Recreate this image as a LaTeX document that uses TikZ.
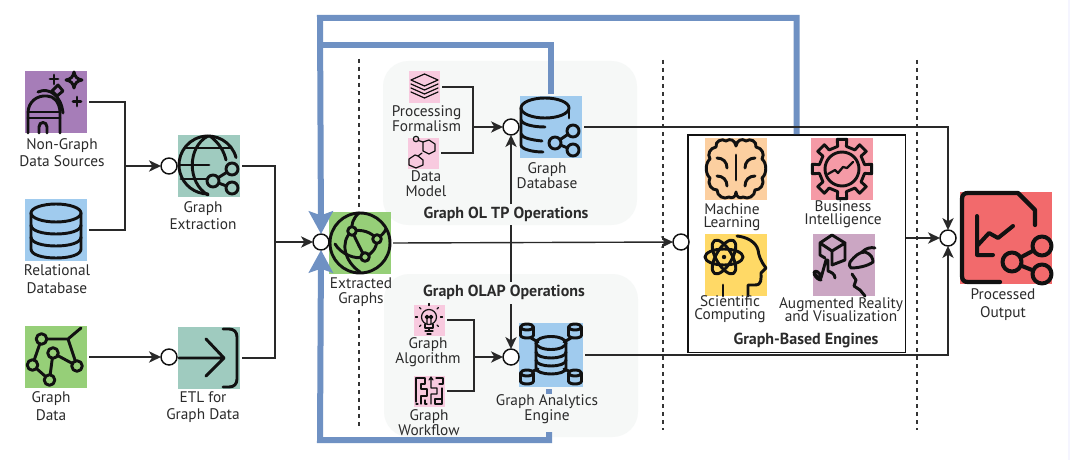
\documentclass[tikz,border=0pt]{standalone}
\usepackage{fontspec}
\setmainfont{PT Sans}
\usetikzlibrary{arrows.meta,calc}
\AtBeginDocument{\lineskiplimit=-5pt\relax}
\definecolor{purp}{HTML}{A67DB8}
\definecolor{lblue}{HTML}{A0CBEE}
\definecolor{lgreen}{HTML}{96CF78}
\definecolor{teal2}{HTML}{9FCBBF}
\definecolor{pink2}{HTML}{F8CADF}
\definecolor{peach}{HTML}{FCCFA0}
\definecolor{rose}{HTML}{F59AA6}
\definecolor{yel}{HTML}{FFD966}
\definecolor{mauve}{HTML}{CBA6C3}
\definecolor{redd}{HTML}{F26A6C}
\definecolor{panel}{HTML}{F6F8F7}
\definecolor{flow}{HTML}{6F91C3}
\definecolor{ink}{HTML}{111111}
\definecolor{txt}{HTML}{2B2B2B}
\tikzset{
  icon/.style 2 args={rectangle,fill=#2,draw=none,minimum size=#1*0.75pt,inner sep=0pt,outer sep=1.5pt},
  circ/.style={circle,draw=ink,fill=white,line width=1.1pt,minimum size=12pt,inner sep=0pt,outer sep=0pt},
  conn/.style={draw=ink!90,line width=1.05pt},
  ar/.style={-{Stealth[length=9pt,width=8.5pt,inset=2.5pt]}},
  flowline/.style={draw=flow,line width=4.5pt},
  flowar/.style={-{Stealth[length=17pt,width=18pt,inset=3pt]}},
  divider/.style={draw=ink!85,line width=1.1pt,dash pattern=on 3pt off 3pt},
  pan/.style={rounded corners=19pt,fill=panel,draw=none},
  lab/.style={text=txt,inner sep=0pt,align=center,font=\fontsize{11.5}{13.3}\selectfont},
  labt/.style={text=txt,inner sep=0pt,align=center,font=\fontsize{11.5}{11.4}\selectfont},
  labn/.style={text=txt,inner sep=0pt,align=center,font=\fontsize{11.5}{9.8}\selectfont},
  head/.style={text=txt,inner sep=0pt,font=\fontsize{12}{12}\selectfont\bfseries},
  gl/.style={draw=ink,line width=2.2pt,line cap=round,line join=round},
  glt/.style={draw=ink,line width=0.9pt,line cap=round,line join=round},
}
\begin{document}
\begin{tikzpicture}[x=0.75pt,y=-0.75pt]
\useasboundingbox (0,0) rectangle (1070,460);
\fill[white] (0,0) rectangle (1070,460);
\fill[blue!4] (1068,0) rectangle (1070,460);
% panels
\fill[pan] (383,61) rectangle (637,225);
\fill[pan] (384,274) rectangle (638,437);
% dividers
\coordinate (d1a) at (359,59);\coordinate (d1b) at (359,211);
\coordinate (d1c) at (359,310);\coordinate (d1d) at (359,429);
\coordinate (d2a) at (663,60);\coordinate (d2b) at (663,430);
\coordinate (d3a) at (917,60);\coordinate (d3b) at (917,430);
\draw[divider] (d1a)--(d1b) (d1c)--(d1d) (d2a)--(d2b) (d3a)--(d3b);
% icon tiles
\node[icon={62}{purp}] (ng) at (56,102) {};
\node[icon={62}{lblue}] (rd) at (56,230) {};
\node[icon={62}{lgreen}] (gd) at (56,357) {};
\node[icon={62}{teal2}] (ge) at (209,166) {};
\node[icon={62}{teal2}] (etl) at (209,358) {};
\node[icon={62}{lgreen}] (eg) at (360,243) {};
\node[icon={31}{pink2}] (pf) at (424.5,87) {};
\node[icon={31}{pink2}] (dm) at (423,153) {};
\node[icon={62}{lblue}] (gdb) at (551,127) {};
\node[icon={31}{pink2}] (alg) at (429.5,320) {};
\node[icon={31}{pink2}] (wf) at (429.5,391) {};
\node[icon={64}{lblue}] (ga) at (551,355) {};
\node[rectangle,draw=ink,line width=1pt,fill=white,minimum width=163pt,minimum height=163pt,inner sep=0pt] (box) at (796.5,243.5) {};
\node[icon={62}{peach}] (ml) at (736,169) {};
\node[icon={62}{rose}] (bi) at (841.5,169) {};
\node[icon={62}{yel}] (sc) at (736,265) {};
\node[icon={62}{mauve}] (ar) at (844,265) {};
\node[icon={92}{redd}] (po) at (1006,238) {};
% glyphs: Non-Graph
\begin{scope}[shift={(25,71)}]
\draw[gl] (3,62)--(3,42) .. controls (3,31) and (12,24) .. (22,25) .. controls (29,25) and (34,31) .. (35,40) --(35,62);
\draw[gl] (3,41)--(35,41) (3,47)--(35,47);
\draw[gl] (14,62)--(14,56) .. controls (14,50) and (22,50) .. (22,56)--(22,62);
\draw[gl] (13,21) .. controls (24,16) and (36,24) .. (38,42);
\draw[gl] (32,25)--(27,20)--(33,14)--(38,20)--cycle;
\draw[gl] (29,4)--(29,13) (25,8)--(33,8) (52,26)--(52,35) (48,30.5)--(56,30.5);
\draw[gl] (49,1) .. controls (50,6) and (52,8) .. (57,9) .. controls (52,10) and (50,12) .. (49,17) .. controls (48,12) and (46,10) .. (41,9) .. controls (46,8) and (48,6) .. (49,1)--cycle;
\end{scope}
% Relational DB
\begin{scope}[shift={(25,199)}]
\draw[gl] (31,14) ellipse (25 and 9);
\draw[gl] (6,14)--(6,50) .. controls (6,56) and (18,59) .. (31,59) .. controls (44,59) and (56,56) .. (56,50)--(56,14);
\draw[gl] (6,26) .. controls (6,32) and (18,35) .. (31,35) .. controls (44,35) and (56,32) .. (56,26);
\draw[gl] (6,38) .. controls (6,44) and (18,47) .. (31,47) .. controls (44,47) and (56,44) .. (56,38);
\end{scope}
% Graph data
\begin{scope}[shift={(25,326)}]
\draw[gl] (16.5,13)--(43,13)--(56,2) (43,13)--(52,40)--(28,27)--(24.5,54)--(7.5,39)--(16.5,13);
\foreach \p in {(16.5,13),(28,27),(7.5,39),(24.5,54),(52,40)} \draw[gl,fill=lgreen] \p circle (5.3);
\end{scope}
% Graph extraction
\begin{scope}[shift={(178,135)}]
\draw[gl] (30,30) ++(-15:29) arc[start angle=-15,end angle=-270,radius=29];
\draw[gl] (30,1) .. controls (9,12) and (9,48) .. (30,60);
\draw[gl] (32,1) .. controls (41,8) and (46,16) .. (48,25);
\draw[gl] (8,13)--(52,13) (1,30)--(31,30) (3,44)--(28,44);
\draw[gl] (54,34)--(35,46)--(54,53);
\foreach \p in {(54,34),(35,46),(54,53)} \draw[gl,fill=teal2] \p circle (6);
\end{scope}
% ETL
\begin{scope}[shift={(178,327)}]
\draw[gl] (1,31)--(46,31) (28,12)--(46,31)--(28,49);
\draw[gl] (45,2)--(51,2) .. controls (56,2) and (59,5) .. (59,10)--(59,52) .. controls (59,57) and (56,60) .. (51,60)--(45,60);
\end{scope}
% Extracted graphs
\begin{scope}[shift={(329,212)}]
\draw[gl] (31,31) circle (30);
\draw[gl] (23,19) .. controls (10,30) and (16,50) .. (31,60);
\draw[gl] (23,19) .. controls (33,17) and (42,20) .. (48,27);
\draw[gl] (48,27) .. controls (48,36) and (43,42) .. (36,45);
\draw[gl] (36,45) .. controls (26,48) and (12,42) .. (6,32);
\draw[gl] (23,19) .. controls (22,13) and (24,6) .. (30,1);
\draw[gl] (23,19) .. controls (28,30) and (32,38) .. (36,45);
\draw[gl] (48,27) .. controls (52,24) and (56,20) .. (57,17);
\foreach \p in {(23,19),(48,27),(36,45)} \draw[gl,fill=lgreen] \p circle (4.3);
\end{scope}
% Processing formalism icon
\begin{scope}[shift={(409,71)}]
\draw[glt] (15.5,3)--(29,9)--(15.5,15)--(2,9)--cycle;
\draw[glt] (2,13)--(15.5,19)--(29,13) (2,17)--(15.5,23)--(29,17) (2,21)--(15.5,27)--(29,21);
\end{scope}
% Data model icon
\begin{scope}[shift={(407,137)}]
\draw[glt] (9,2) circle (2.7);
\draw[glt] (11.5,3.5)--(16,5);
\draw[glt] (16,5)--(22,3)--(28,7)--(28,14)--(22,17)--(16,14)--cycle;
\draw[glt] (15,16)--(11,19);
\draw[glt] (11,19)--(16,23)--(16,28)--(9,31)--(2,28)--(2,22)--(8,18)--cycle;
\end{scope}
% Graph database
\begin{scope}[shift={(520,96)}]
\draw[gl] (25,12) ellipse (24 and 10);
\draw[gl] (49,12)--(49,22);
\draw[gl] (1,12)--(1,49) .. controls (1,53) and (12,56) .. (23,56);
\draw[gl] (1,24) .. controls (2,28) and (12,31) .. (25,31);
\draw[gl] (1,38) .. controls (2,42) and (12,44) .. (22,45);
\draw[gl] (53,35)--(35,47)--(53,54);
\foreach \p in {(53,35),(35,47),(53,54)} \draw[gl,fill=lblue] \p circle (6);
\end{scope}
% Graph algorithm
\begin{scope}[shift={(414,304)}]
\draw[glt] (15,13) circle (7.5);
\draw[glt] (11,20)--(11,24)--(19,24)--(19,20) (11,27)--(19,27) (13,30)--(17,30);
\draw[glt] (13,20)--(13,13) (17,20)--(17,13) (13,13) circle (1.8) (17,13) circle (1.8);
\foreach \a in {0,45,...,315} \draw[glt] (15,13) ++(\a:11.5) -- ++(\a:2);
\end{scope}
% Workflow
\begin{scope}[shift={(414,375)}]
\draw[glt] (2,27)--(2,3)--(11,3)--(11,9)--(7,9)--(7,14)--(13,14)--(13,21)--(7,21)--(7,29);
\draw[glt] (17,29)--(17,19)--(23,19)--(23,13)--(17,13)--(17,3)  (15,5)--(17,2)--(19,5);
\draw[glt] (22,3)--(29,3)--(29,9)--(25,9) (28,13)--(28,29)--(21,29)--(21,24)--(28,24);
\draw[glt] (2,29)--(4,29) (11,25)--(11,29)--(13,29);
\end{scope}
% Analytics engine
\begin{scope}[shift={(519,323)}]
\draw[gl] (32,20) ellipse (15 and 6.5);
\draw[gl] (17,20)--(17,45) .. controls (17,53) and (47,53) .. (47,45)--(47,20);
\draw[gl] (17,29) .. controls (17,37) and (47,37) .. (47,29);
\draw[gl] (17,37) .. controls (17,45) and (47,45) .. (47,37);
\draw[gl] (12,15)--(19,19) (52,15)--(45,19) (12,49)--(19,46) (52,49)--(45,46);
\foreach \px/\py in {8/4,56/4,8/50,56/50} {
 \begin{scope}[shift={(\px,\py)}]
 \draw[gl,fill=lblue] (0,0) ellipse (6.5 and 3);
 \draw[gl] (-6.5,0)--(-6.5,8) .. controls (-6.5,12) and (6.5,12) .. (6.5,8)--(6.5,0);
 \end{scope}}
\end{scope}
% ML brain
\begin{scope}[shift={(705,138)}]
\draw[gl] (31,8) .. controls (30,2) and (25,0) .. (21,3) .. controls (17,0) and (10,3) .. (11,9) .. controls (5,10) and (2,16) .. (5,21) .. controls (0,25) and (0,36) .. (5,40) .. controls (2,47) and (7,52) .. (12,52) .. controls (12,58) and (19,62) .. (24,59) .. controls (27,61) and (31,59) .. (31,54) .. controls (31,59) and (35,61) .. (38,59) .. controls (43,62) and (50,58) .. (50,52) .. controls (55,52) and (60,47) .. (57,40) .. controls (62,36) and (62,25) .. (57,21) .. controls (60,16) and (57,10) .. (51,9) .. controls (52,3) and (45,0) .. (41,3) .. controls (37,0) and (32,2) .. (31,8);
\draw[gl] (31,17)--(31,42);
\draw[gl] (12,20) .. controls (18,20) and (22,24) .. (22,30);
\draw[gl] (50,20) .. controls (44,20) and (40,24) .. (40,30);
\draw[gl] (12,38) .. controls (18,38) and (22,42) .. (22,48);
\draw[gl] (50,38) .. controls (44,38) and (40,42) .. (40,48);
\end{scope}
% BI gear
\begin{scope}[shift={(811,138)}]
\begin{scope}[shift={(31,31)}]
\draw[gl] (-11:23) \foreach \a in {0,45,...,315} { -- (\a-11:23) -- (\a-9:30) -- (\a+9:30) -- (\a+11:23)} -- cycle;
\draw[gl] (0,0) circle (17);
\end{scope}
\draw[gl,line width=1.7pt] (17,36)--(24,32)--(27,35)--(32,29)--(36,30)--(42,24);
\end{scope}
% Science head
\begin{scope}[shift={(705,234)}]
\begin{scope}[shift={(19,23)}]
\draw[gl] (0,0) ellipse (19 and 8);
\draw[gl,rotate=60] (0,0) ellipse (19 and 8);
\draw[gl,rotate=-60] (0,0) ellipse (19 and 8);
\fill[ink] (0,0) circle (2.2);
\end{scope}
\draw[gl] (32,2) .. controls (42,3) and (51,8) .. (53,16) .. controls (54,22) and (55,26) .. (61,34) -- (56,39) .. controls (56,45) and (57,51) .. (50,51)--(43,51)--(43,62);
\draw[gl] (18,51)--(18,62);
\end{scope}
% AR
\begin{scope}[shift={(813,234)}]
\draw[gl] (19,1)--(32,9)--(32,26)--(19,31) (19,31)--(19,17)--(7,9)--(19,1) (19,17)--(32,9) (7,9)--(7,21)--(12,24);
\draw[gl] (1,40) .. controls (3,44) and (6,46) .. (8,46) .. controls (4,42) and (1,40) .. (1,38)  (8,44)--(13,26)--(15,26)--(15,37) .. controls (18,38) and (22,40) .. (22,44) (1,38) .. controls (3,36) and (6,38) .. (8,42);
\draw[gl] (49,18) .. controls (53,14) and (58,13) .. (62,14);
\draw[gl] (37,28) .. controls (42,22) and (46,18) .. (52,18) .. controls (58,20) and (60,24) .. (60,28) .. controls (55,32) and (45,34) .. (38,34) .. controls (36,33) and (36,30) .. (37,28)--cycle;
\draw[gl] (39,40)--(43,46)--(41,52)--(47,56)--(52,62);
\end{scope}
% Processed output
\begin{scope}[shift={(960,192)}]
\draw[gl,line width=3.2pt] (75,33)--(75,18)--(58,1)--(8,1) .. controls (4,1) and (2,3) .. (2,7)--(2,84) .. controls (2,88) and (4,90) .. (8,90)--(40,90);
\draw[gl,line width=3pt] (17,24)--(17,63)--(33,63) (18,53)--(29,41)--(38,46)--(53,34);
\draw[gl,line width=3pt] (82,54)--(52,70)--(82,82);
\foreach \p in {(82,54),(52,70),(82,82)} \draw[gl,line width=3pt,fill=redd] \p circle (9.5);
\end{scope}
% junction circles
\node[circ] (c1) at (169,166) {};
\node[circ] (c2) at (169,357) {};
\node[circ] (c3) at (321,242) {};
\node[circ] (c4) at (511,127) {};
\node[circ] (c5) at (511,357) {};
\node[circ] (c6) at (681,242) {};
\node[circ] (c7) at (948,238) {};
% flow lines
\coordinate (fo) at (320,18);
\coordinate (fi) at (320,45);
\coordinate (fb) at (320,440);
\coordinate (gapa) at (549,394);
\coordinate (gapb) at (549,432);
\draw[flowline] (gdb.north) |- (fi);
\draw[flowline,flowar] (box.north) |- (fo) -- (c3.north);
\draw[flowline,flowar] (gapb) |- (fb) -- (c3.south);
\draw[flowline] (ga.south-|gapa) -- (gapa);
% connectors
\coordinate (j1) at (125,166);
\coordinate (j2) at (275,242);
\coordinate (j3) at (511,242);
\coordinate (j4) at (473,127);
\coordinate (j5) at (474,357);
\coordinate (ua) at (511,225);\coordinate (ub) at (511,204);
\coordinate (la) at (511,282);\coordinate (lb) at (511,304);
\draw[conn] (ng.east) -| (j1) |- (rd.east);
\draw[conn,ar] (j1) -- (c1);
\draw[conn,ar] (gd.east) -- (c2);
\draw[conn] (ge.east) -| (j2) |- (etl.east);
\draw[conn,ar] (j2) -- (c3);
\draw[conn,ar] (eg.east) -- (c6);
\draw[conn] (pf.east) -| (j4) |- (dm.east);
\draw[conn,ar] (j4) -- (c4);
\draw[conn] (alg.east) -| (j5) |- (wf.east);
\draw[conn,ar] (j5) -- (c5);
\draw[conn] (j3) -- (ua);
\draw[conn,ar] (ub) -- (c4);
\draw[conn] (j3) -- (la);
\draw[conn,ar] (lb) -- (c5);
\draw[conn,ar] (gdb.east) -| (c7);
\draw[conn,ar] (ga.east) -| (c7);
\draw[conn,ar] (box.east|-c7) -- (c7);
% labels
\node[lab] (tng) at (62,152.5) {Non-Graph\\Data Sources};
\node[lab] (trd) at (57,279.5) {Relational\\Database};
\node[lab] (tgd) at (51,406) {Graph\\Data};
\node[lab] (tge) at (203,215.5) {Graph\\Extraction};
\node[lab] (tetl) at (203,407) {ETL for\\Graph Data};
\node[labt] (teg) at (361,292) {Extracted\\Graphs};
\node[labt] (tpf) at (426.5,118.5) {Processing\\Formalism};
\node[labt] (tdm) at (426,183.5) {Data\\Model};
\node[labt] (tgdb) at (547,176) {Graph\\Database};
\node[labt] (talg) at (428,352) {Graph\\Algorithm};
\node[labt] (twf) at (429,423) {Graph\\Workflow};
\node[labt] (tga) at (547,409) {Graph Analytics\\Engine};
\node[labn] (tml) at (732,217) {Machine\\Learning};
\node[labn] (tbi) at (843,214) {Business\\Intelligence};
\node[labn] (tsc) at (730,309) {Scientific\\Computing};
\node[labn] (tar) at (841,310) {Augmented Reality\\and Visualization};
\node[lab] (tpo) at (1003,304.5) {Processed\\Output};
\node[head] (holtp) at (506,214.5) {Graph OL TP Operations};
\node[head] (holap) at (504,292.5) {Graph OLAP Operations};
\node[head] (hbox) at (806,340.5) {Graph-Based Engines};
\end{tikzpicture}
\end{document}
